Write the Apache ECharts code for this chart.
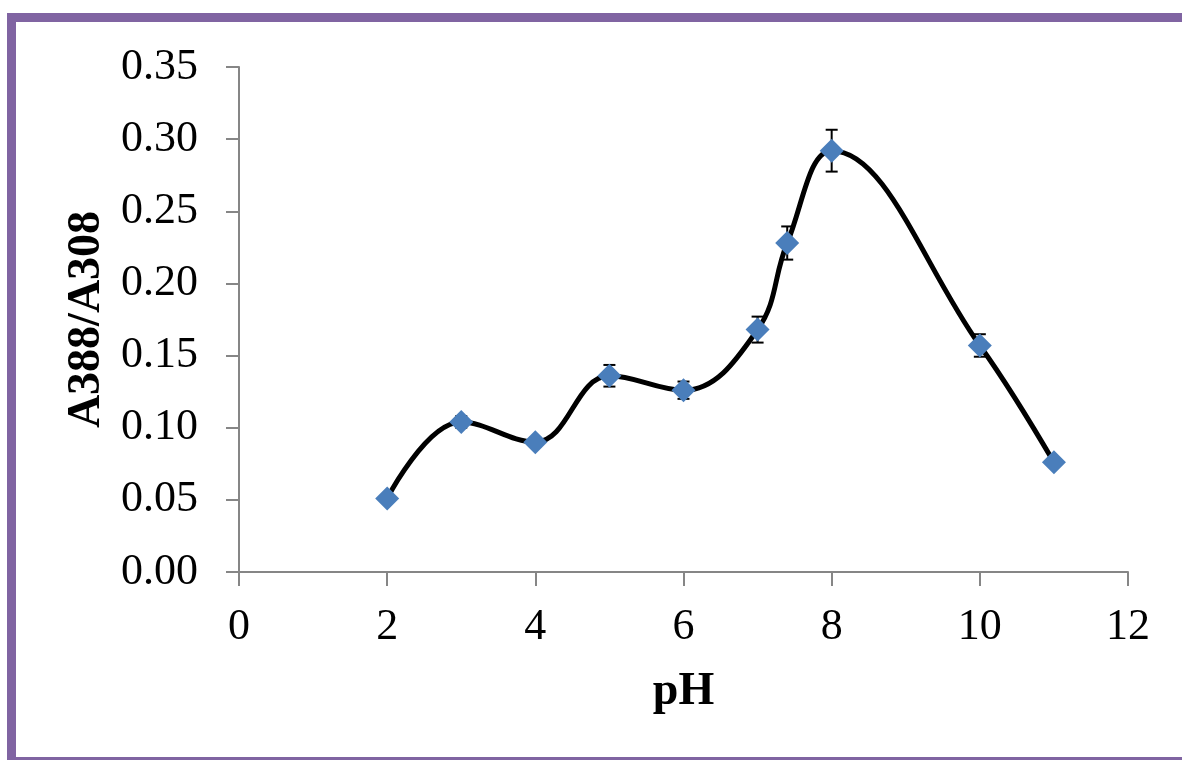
<!DOCTYPE html>
<html>
<head>
<meta charset="utf-8">
<script src="https://cdn.jsdelivr.net/npm/echarts@6/dist/echarts.min.js"></script>
<style>
  html, body { margin: 0; padding: 0; background: #fff; }
  #chart { width: 1182px; height: 761px; }
</style>
</head>
<body>
<div id="chart"></div>
<script>
// pH values and measured ratio A388/A308 with error (±)
const phValues = [2, 3, 4, 5, 6, 7, 7.4, 8, 10, 11];
const ratioValues = [0.051, 0.104, 0.090, 0.136, 0.126, 0.168, 0.228, 0.292, 0.157, 0.076];
const ratioErrors = [0.002, 0.004, 0.003, 0.0075, 0.006, 0.009, 0.0115, 0.0145, 0.0078, 0.002];

const xTicks = [0, 2, 4, 6, 8, 10, 12];
const yTicks = [0, 0.05, 0.1, 0.15, 0.2, 0.25, 0.3, 0.35];

const frameColor = "#8064A2";
const axisColor = "#868686";
const serif = "'Liberation Serif', 'DejaVu Serif', serif";

const points = phValues.map((x, i) => [x, ratioValues[i]]);
const errData = phValues.map((x, i) => [x, ratioValues[i], ratioErrors[i]]);

let myChart = echarts.init(document.getElementById("chart"));
myChart.setOption({
  animation: false,
  backgroundColor: "#fff",
  graphic: [
    { type: "rect", shape: { x: 7, y: 13, width: 1175, height: 9 }, style: { fill: frameColor } },
    { type: "rect", shape: { x: 7, y: 13, width: 9, height: 747 }, style: { fill: frameColor } },
    { type: "rect", shape: { x: 7, y: 757, width: 1175, height: 3 }, style: { fill: frameColor } },
  ],
  grid: {
    left: 239,
    right: 54,
    top: 67,
    bottom: 189,
  },
  xAxis: {
    type: "value",
    min: 0,
    max: 12,
    interval: 2,
    name: "pH",
    nameLocation: "middle",
    nameGap: 97,
    nameTextStyle: { fontFamily: serif, fontSize: 46, fontWeight: "bold", color: "#000" },
    splitLine: { show: false },
    axisLine: { lineStyle: { color: axisColor, width: 2 } },
    axisTick: { inside: false, length: 14, lineStyle: { color: axisColor, width: 2 } },
    axisLabel: {
      margin: 33,
      fontFamily: serif,
      fontSize: 44,
      color: "#000",
      formatter: (v) => (xTicks.includes(v) ? String(v) : ""),
    },
  },
  yAxis: {
    type: "value",
    min: 0,
    max: 0.35,
    interval: 0.05,
    name: "A388/A308",
    nameLocation: "middle",
    nameGap: 128,
    nameTextStyle: { fontFamily: serif, fontSize: 46, fontWeight: "bold", color: "#000" },
    splitLine: { show: false },
    axisLine: { show: true, lineStyle: { color: axisColor, width: 2 } },
    axisTick: { show: true, inside: false, length: 13, lineStyle: { color: axisColor, width: 2 } },
    axisLabel: {
      margin: 41,
      fontFamily: serif,
      fontSize: 44,
      color: "#000",
      formatter: (v) => v.toFixed(2),
    },
  },
  series: [
    {
      name: "error",
      type: "custom",
      z: 1,
      data: errData,
      renderItem: (params, api) => {
        const x = api.value(0);
        const v = api.value(1);
        const e = api.value(2);
        const top = api.coord([x, v + e]);
        const bot = api.coord([x, v - e]);
        const hw = 6;
        const style = { stroke: "#000", lineWidth: 2 };
        return {
          type: "group",
          children: [
            { type: "line", shape: { x1: top[0], y1: top[1], x2: bot[0], y2: bot[1] }, style },
            { type: "line", shape: { x1: top[0] - hw, y1: top[1], x2: top[0] + hw, y2: top[1] }, style },
            { type: "line", shape: { x1: bot[0] - hw, y1: bot[1], x2: bot[0] + hw, y2: bot[1] }, style },
          ],
        };
      },
    },
    {
      name: "ratio",
      type: "line",
      z: 2,
      data: points,
      smooth: 0.4,
      symbol: "diamond",
      symbolSize: 24,
      lineStyle: { color: "#000", width: 5 },
      itemStyle: { color: "#4A7EBB" },
    },
  ],
});
</script>
</body>
</html>
